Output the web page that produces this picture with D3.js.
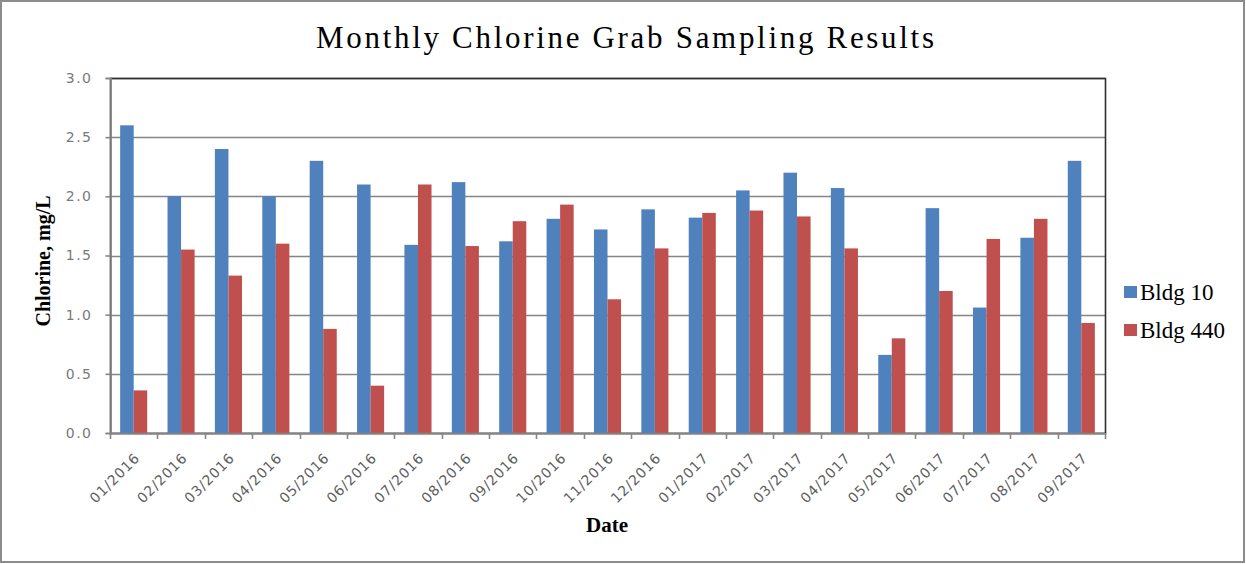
<!DOCTYPE html>
<html>
<head>
<meta charset="utf-8">
<script src="https://cdn.jsdelivr.net/npm/d3@7"></script>
<style>
  body { margin: 0; background: #fff; }
  svg { display: block; }
</style>
</head>
<body>
<div class="chart"></div>
<script>
// chart data
var dates = ["01/2016", "02/2016", "03/2016", "04/2016", "05/2016", "06/2016", "07/2016",
  "08/2016", "09/2016", "10/2016", "11/2016", "12/2016", "01/2017", "02/2017", "03/2017",
  "04/2017", "05/2017", "06/2017", "07/2017", "08/2017", "09/2017"];
var seriesNames = ["Bldg 10", "Bldg 440"];
var bldg10 = [2.60, 2.00, 2.40, 2.00, 2.30, 2.10, 1.59, 2.12, 1.62, 1.81, 1.72, 1.89, 1.82,
  2.05, 2.20, 2.07, 0.66, 1.90, 1.06, 1.65, 2.30];
var bldg440 = [0.36, 1.55, 1.33, 1.60, 0.88, 0.40, 2.10, 1.58, 1.79, 1.93, 1.13, 1.56, 1.86,
  1.88, 1.83, 1.56, 0.80, 1.20, 1.64, 1.81, 0.93];
var yTicks = [0, 0.5, 1.0, 1.5, 2.0, 2.5, 3.0];
var colors = ["#4F81BD", "#C0504D"];

var svgWidth = 1246, svgHeight = 564;
var plot = { left: 110, right: 1105, top: 78, bottom: 433 };

var svg = d3.select(".chart").append("svg")
  .attr("width", svgWidth)
  .attr("height", svgHeight);

// outer chart frame
svg.append("rect")
  .attr("x", 1).attr("y", 1)
  .attr("width", svgWidth - 3).attr("height", svgHeight - 3)
  .attr("fill", "#fff")
  .attr("stroke", "#8c8c8c")
  .attr("stroke-width", 2);

// scales
var x = d3.scaleBand().domain(dates).range([plot.left, plot.right]).padding(0);
var xInner = d3.scaleBand().domain(seriesNames).range([0, x.bandwidth()])
  .paddingInner(0).paddingOuter(0.75);
var y = d3.scaleLinear().domain([0, 3]).range([plot.bottom, plot.top]);

// gridlines
svg.append("g")
  .selectAll("line")
  .data(yTicks)
  .enter()
  .append("line")
  .attr("x1", plot.left).attr("x2", plot.right)
  .attr("y1", d => Math.round(y(d)) + 0.5).attr("y2", d => Math.round(y(d)) + 0.5)
  .attr("stroke", "#858585")
  .attr("stroke-width", 1.6);

// plot area border
svg.append("rect")
  .attr("x", plot.left + 0.5).attr("y", Math.round(plot.top) + 0.5)
  .attr("width", plot.right - plot.left).attr("height", plot.bottom - plot.top)
  .attr("fill", "none")
  .attr("stroke", "#2e2e2e")
  .attr("stroke-width", 1.6);

// bars
var rows = dates.map((d, i) => ({ date: d, values: [bldg10[i], bldg440[i]] }));

var groups = svg.append("g")
  .selectAll("g")
  .data(rows)
  .enter()
  .append("g")
  .attr("transform", d => `translate(${x(d.date)},0)`);

groups.selectAll("rect")
  .data(d => d.values.map((v, j) => ({ name: seriesNames[j], value: v, color: colors[j] })))
  .enter()
  .append("rect")
  .attr("x", d => xInner(d.name))
  .attr("y", d => y(d.value))
  .attr("width", xInner.bandwidth())
  .attr("height", d => y(0) - y(d.value))
  .attr("fill", d => d.color);

// y axis
var leftAxis = d3.axisLeft(y).tickValues(yTicks).tickFormat(d3.format(".1f")).tickSize(5).tickPadding(13);
var yAxisG = svg.append("g")
  .attr("transform", `translate(${plot.left + 0.5},0)`)
  .call(leftAxis);
yAxisG.select(".domain").attr("stroke", "#858585").attr("stroke-width", 1.6);
yAxisG.selectAll(".tick line").attr("stroke", "#858585").attr("stroke-width", 1.6);
yAxisG.selectAll(".tick text")
  .attr("fill", "#7a7a7a")
  .style("font-family", "'DejaVu Sans', sans-serif")
  .style("font-size", "14px")
  .style("letter-spacing", "1.5px");

// x axis line and boundary ticks
var xAxisG = svg.append("g");
xAxisG.append("line")
  .attr("x1", plot.left).attr("x2", plot.right)
  .attr("y1", plot.bottom + 0.5).attr("y2", plot.bottom + 0.5)
  .attr("stroke", "#858585").attr("stroke-width", 1.6);
xAxisG.selectAll(".xtick")
  .data(dates.map(d => x(d)).concat([plot.right]))
  .enter()
  .append("line")
  .attr("class", "xtick")
  .attr("x1", d => Math.round(d) + 0.5).attr("x2", d => Math.round(d) + 0.5)
  .attr("y1", plot.bottom).attr("y2", plot.bottom + 6)
  .attr("stroke", "#858585").attr("stroke-width", 1.6);

// x tick labels rotated
xAxisG.selectAll(".xlabel")
  .data(dates)
  .enter()
  .append("text")
  .attr("class", "xlabel")
  .attr("transform", d => `translate(${x(d) + x.bandwidth() / 2 + 7},${plot.bottom + 26}) rotate(-45)`)
  .attr("text-anchor", "end")
  .attr("fill", "#5e5e5e")
  .style("font-family", "'DejaVu Sans', sans-serif")
  .style("font-size", "14px")
  .style("letter-spacing", "0.8px")
  .text(d => d);

// title
svg.append("text")
  .attr("x", 625).attr("y", 48)
  .attr("text-anchor", "middle")
  .attr("textLength", 618)
  .attr("lengthAdjust", "spacing")
  .style("font-family", "'Liberation Serif', serif")
  .style("font-size", "31px")
  .attr("fill", "#000")
  .text("Monthly Chlorine Grab Sampling Results");

// axis titles
svg.append("text")
  .attr("transform", `translate(50,261) rotate(-90)`)
  .attr("text-anchor", "middle")
  .style("font-family", "'Liberation Serif', serif")
  .style("font-weight", "bold")
  .style("font-size", "20px")
  .text("Chlorine, mg/L");

svg.append("text")
  .attr("x", 607).attr("y", 532)
  .attr("text-anchor", "middle")
  .style("font-family", "'Liberation Serif', serif")
  .style("font-weight", "bold")
  .style("font-size", "21px")
  .text("Date");

// legend
var legend = svg.append("g")
  .selectAll("g")
  .data(seriesNames)
  .enter()
  .append("g")
  .attr("transform", (d, i) => `translate(1124,${286 + i * 38})`);
legend.append("rect")
  .attr("width", 13).attr("height", 12)
  .attr("fill", (d, i) => colors[i]);
legend.append("text")
  .attr("x", 16).attr("y", 14)
  .style("font-family", "'Liberation Serif', serif")
  .style("font-size", "23px")
  .text(d => d);
</script>
</body>
</html>
